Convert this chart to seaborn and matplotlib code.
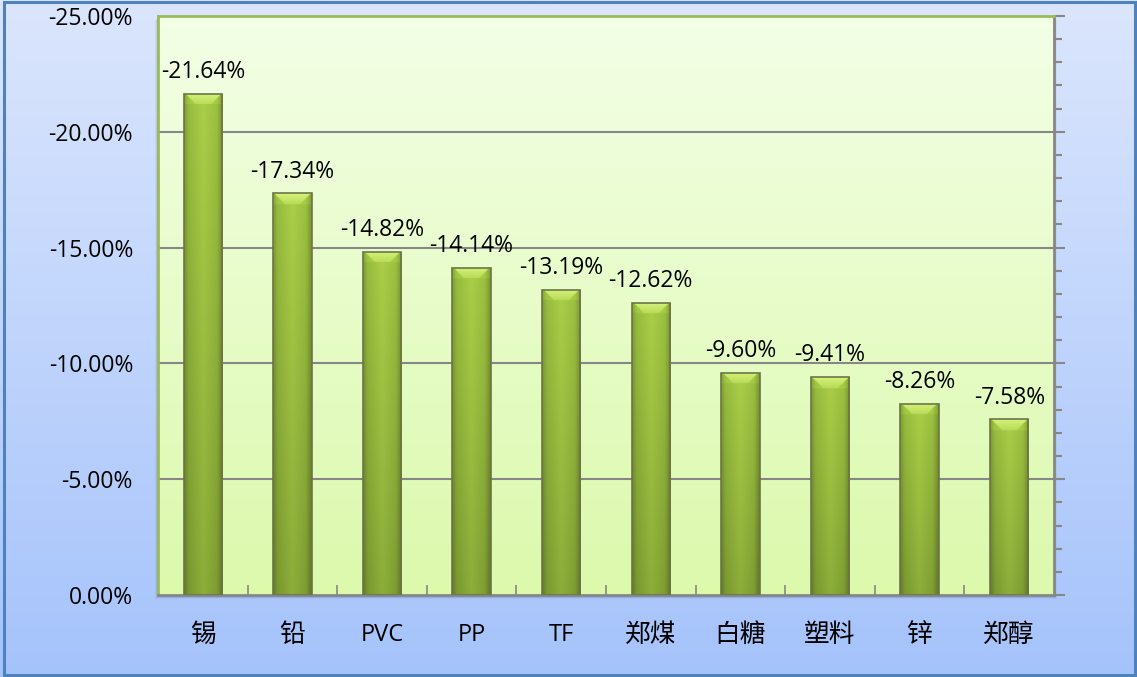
import numpy as np
import pandas as pd
import matplotlib
matplotlib.use("Agg")
import matplotlib.pyplot as plt
import seaborn as sns
from matplotlib.colors import to_rgb
from matplotlib.patches import Rectangle
from matplotlib.ticker import MultipleLocator, FuncFormatter

categories = ["锡", "铅", "PVC", "PP", "TF", "郑煤", "白糖", "塑料", "锌", "郑醇"]
values = [-21.64, -17.34, -14.82, -14.14, -13.19, -12.62, -9.60, -9.41, -8.26, -7.58]
y_ticks = [0, -5, -10, -15, -20, -25]

sns.set_theme(style="white")
plt.rcParams['font.family'] = ['Open Sans', 'Noto Sans CJK SC', 'DejaVu Sans']

W, H = 1137, 677
fig = plt.figure(figsize=(W / 100, H / 100), dpi=100)

# figure background gradient
bg = fig.add_axes([0, 0, 1, 1], zorder=-10)
top_c = np.array(to_rgb("#dbe6fd"))
bot_c = np.array(to_rgb("#a5c3fb"))
t = np.linspace(0, 1, 256)[:, None, None]
grad = top_c * (1 - t) + bot_c * t
bg.imshow(grad, aspect="auto", extent=[0, 1, 0, 1], origin="upper")
bg.set_xlim(0, 1); bg.set_ylim(0, 1)
bg.axis("off")
bg.add_patch(Rectangle((4 / W, 2 / H), (W - 6) / W, (H - 4) / H, fill=False,
                       edgecolor="#4f81bd", lw=2.2))

left, right, top, bottom = 158, 1054, 16, 595
ax = fig.add_axes([left / W, (H - bottom) / H, (right - left) / W, (bottom - top) / H])

# shadow of plot area
for i, a in enumerate([0.10, 0.07, 0.04]):
    fig.patches.append(Rectangle(((left - 1 - i) / W, (H - bottom - 2 - i) / H),
                                 (right - left + 2 + 2 * i) / W, (bottom - top) / H,
                                 transform=fig.transFigure, facecolor="black",
                                 edgecolor="none", alpha=a, zorder=-5))

df = pd.DataFrame({"cat": categories, "val": values})
sns.barplot(data=df, x="cat", y="val", ax=ax, width=0.43, color="#95b842",
            edgecolor="#6b7548", linewidth=1.2, zorder=3)

ax.set_facecolor("none")
pa_top = np.array(to_rgb("#f3ffe6"))
pa_bot = np.array(to_rgb("#dcf9ac"))
pgrad = pa_top * (1 - t) + pa_bot * t
ax.imshow(pgrad, aspect="auto", extent=[0, 1, 0, 1], origin="upper",
          transform=ax.transAxes, zorder=0)

ax.set_xlim(-0.5, len(categories) - 0.5)
ax.set_ylim(0, -25)

# bar gradients
ax_h_px = bottom - top
data_per_px = 25 / ax_h_px
prof_x = np.array([0, 0.12, 0.5, 0.85, 1.0])
top_prof = np.array([to_rgb(c) for c in ["#7f9c34", "#98bc3e", "#abcf48", "#9cc040", "#7a9630"]])
bot_prof = np.array([to_rgb(c) for c in ["#627828", "#7a9830", "#8cad3a", "#7e9c32", "#5e7426"]])
for p in list(ax.patches):
    x0, w, hgt = p.get_x(), p.get_width(), p.get_height()
    if hgt == 0:
        continue
    p.set_facecolor("none")
    n_rows, n_cols = 500, 80
    xs = np.linspace(0, 1, n_cols)
    tc = np.stack([np.interp(xs, prof_x, top_prof[:, k]) for k in range(3)], axis=-1)
    bc = np.stack([np.interp(xs, prof_x, bot_prof[:, k]) for k in range(3)], axis=-1)
    s = np.linspace(0, 1, n_rows)[:, None, None]
    img = bc[None] * (1 - s) + tc[None] * s
    # bevel at top
    bar_px = abs(hgt) / data_per_px
    w_px = 38.0
    bev = 11.0
    for r in range(n_rows):
        depth = (n_rows - 1 - r) / (n_rows - 1) * bar_px
        if depth < bev:
            xpx = xs * w_px
            inside = (xpx > depth + 1) & (xpx < w_px - depth - 1)
            light = np.array(to_rgb("#d6f27a")) * (1 - depth / bev) + np.array(to_rgb("#b8da58")) * (depth / bev)
            img[r, inside] = light
            img[r, ~inside] = np.clip(img[r, ~inside] * 1.06, 0, 1)
    im = ax.imshow(np.clip(img, 0, 1), aspect="auto", extent=(x0, x0 + w, 0, hgt),
                   origin="lower", zorder=2, interpolation="bilinear")
    im.set_clip_path(p)
    ax.annotate(f"{hgt:.2f}%", xy=(x0 + w / 2, hgt), xytext=(0, 7),
                textcoords="offset points", ha="center", va="bottom",
                fontsize=16.5, color="black", zorder=5)

ax.set_xlim(-0.5, len(categories) - 0.5)
ax.set_ylim(0, -25)

# grid
ax.yaxis.set_major_locator(MultipleLocator(5))
ax.yaxis.set_minor_locator(MultipleLocator(1))
ax.yaxis.set_major_formatter(FuncFormatter(lambda v, pos: f"{v + 0.0:.2f}%"))
for yv in y_ticks[1:-1]:
    ax.axhline(yv, color="#878787", lw=1.5, zorder=1)

ax.tick_params(axis="y", which="both", left=False, right=True, labelleft=True,
               labelright=False, direction="out", color="#878787", pad=10,
               labelsize=16.5, labelcolor="black")
ax.tick_params(axis="y", which="major", length=8, width=1.5)
ax.tick_params(axis="y", which="minor", length=6, width=1.5)

ax.set_xticks(np.arange(len(categories)))
ax.set_xticklabels(categories)
ax.tick_params(axis="x", which="major", bottom=False, pad=14, labelsize=17,
               labelcolor="black")
for lab in ax.get_xticklabels():
    if not lab.get_text().isascii():
        lab.set_fontsize(18.5)
ax.set_xticks(np.arange(len(categories) - 1) + 0.5, minor=True)
ax.tick_params(axis="x", which="minor", bottom=True, direction="in", length=7,
               width=1.2, color="#878787")
ax.set_xlabel("")
ax.set_ylabel("")

for side in ["left", "top"]:
    ax.spines[side].set_color("#9bbb59")
    ax.spines[side].set_linewidth(2)
for side in ["right", "bottom"]:
    ax.spines[side].set_color("#878787")
    ax.spines[side].set_linewidth(2)
    ax.spines[side].set_visible(True)

fig.savefig("out.png", dpi=100)
